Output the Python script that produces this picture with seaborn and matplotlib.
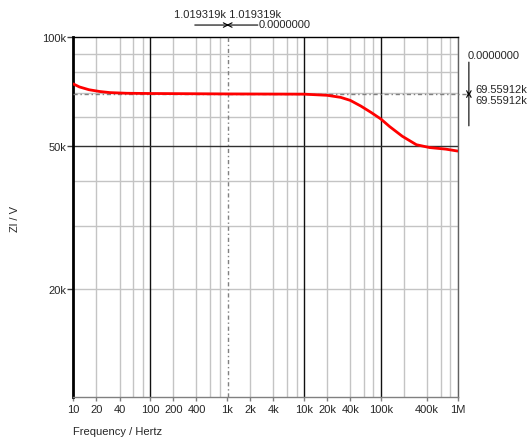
import numpy as np
import pandas as pd
import matplotlib
matplotlib.use("Agg")
import matplotlib.pyplot as plt
import matplotlib.transforms as mtransforms
import seaborn as sns

sns.set_style('white')
plt.rcParams['font.family'] = ['Liberation Sans', 'DejaVu Sans']
plt.rcParams['font.size'] = 8

# ----------------------------------------
# Data
# ----------------------------------------
freq = [10, 12, 16, 22, 30, 50, 100, 1000, 10000, 20000, 30000, 40000,
        55000, 75000, 100000, 130000, 190000, 290000, 430000, 700000, 1000000]
zl = [74200, 72800, 71500, 70700, 70200, 69900, 69800, 69600, 69500, 69000,
      68100, 66800, 64400, 61800, 59300, 56500, 53100, 50300, 49400, 48900, 48300]

xtick_vals = [10, 20, 40, 100, 200, 400, 1e3, 2e3, 4e3, 1e4, 2e4, 4e4, 1e5, 4e5, 1e6]
xtick_labels = ['10', '20', '40', '100', '200', '400', '1k', '2k', '4k',
                '10k', '20k', '40k', '100k', '400k', '1M']
xminor_vals = [60, 80, 600, 800, 6e3, 8e3, 6e4, 8e4, 2e5, 6e5, 8e5]
ytick_vals = [20e3, 50e3, 100e3]
ytick_labels = ['20k', '50k', '100k']
yminor_vals = [30e3, 40e3, 60e3, 70e3, 80e3, 90e3]

cursor_x = 1019.319
cursor_y = 69559.12
cursor_dx = 0.0
cursor_dy = 0.0

df = pd.DataFrame({'Frequency': freq, 'Zl': zl})

# ----------------------------------------
# Figure
# ----------------------------------------
fig = plt.figure(figsize=(5.32, 4.39), dpi=100)
ax = fig.add_axes([0.1378, 0.0927, 0.7226, 0.8201])
ax.set_xscale('log')
ax.set_yscale('log')
ax.set_xlim(10, 1e6)
ax.set_ylim(10e3, 100e3)

# grid
gray = '#c4c4c4'
for v in xtick_vals[1:] + xminor_vals:
    if v in (100, 1e4, 1e5, 1e3):
        continue
    ax.axvline(v, color=gray, lw=1, zorder=1)
for v in [20e3] + yminor_vals:
    ax.axhline(v, color=gray, lw=1, zorder=1)
for v in [100, 1e4, 1e5]:
    ax.axvline(v, color='#101010', lw=1, zorder=2)
ax.axhline(50e3, color='#303030', lw=1, zorder=2)

sns.lineplot(data=df, x='Frequency', y='Zl', color='#ff0000', lw=2,
             ax=ax, zorder=5)

# cursors
ax.axvline(cursor_x, color='#808080', lw=1, dashes=(3, 2, 1, 2), zorder=4)
ax.axhline(cursor_y, xmin=0, xmax=1.029, color='#808080', lw=1,
           dashes=(3, 2, 1, 2), zorder=4, clip_on=False)

ax.set_xticks(xtick_vals)
ax.set_xticklabels(xtick_labels)
ax.set_xticks([], minor=True)
ax.set_yticks(ytick_vals)
ax.set_yticklabels(ytick_labels)
ax.set_yticks([], minor=True)
ax.tick_params(axis='x', length=3, width=1, color='#808080', pad=2,
               labelsize=8, bottom=True)
ax.tick_params(axis='y', length=4, width=1, color='#404040', pad=1,
               labelsize=8, left=True)

for side, c, w in [('left', 'black', 2), ('bottom', '#808080', 1),
                   ('right', '#606060', 1), ('top', 'black', 1)]:
    ax.spines[side].set_visible(True)
    ax.spines[side].set_color(c)
    ax.spines[side].set_linewidth(w)

ax.set_xlabel('Frequency / Hertz', fontsize=8)
ax.xaxis.set_label_coords(0.116, -0.08)
ax.set_ylabel('Zl / V', fontsize=8)
ax.yaxis.set_label_coords(-0.139, 0.498)

arrow = dict(arrowstyle='->', lw=0.8, color='black', shrinkA=0, shrinkB=0,
             mutation_scale=8)

# top cursor readout
tx = mtransforms.blended_transform_factory(ax.transData, ax.transAxes)
ax.text(cursor_x, 1.065, f'{cursor_x/1e3:.6f}k {cursor_x/1e3:.6f}k',
        transform=tx, ha='center', va='center', fontsize=8)
ax.annotate('', xy=(cursor_x * 1.04, 1.034), xycoords=tx,
            xytext=(0.316, 1.034), textcoords='axes fraction',
            arrowprops=arrow, annotation_clip=False)
ax.annotate('', xy=(cursor_x * 0.96, 1.034), xycoords=tx,
            xytext=(0.480, 1.034), textcoords='axes fraction',
            arrowprops=arrow, annotation_clip=False)
ax.text(0.481, 1.036, f'{cursor_dx:.7f}', transform=ax.transAxes,
        ha='left', va='center', fontsize=8)

# right cursor readout
ty = mtransforms.blended_transform_factory(ax.transAxes, ax.transData)
ax.text(1.027, 0.951, f'{cursor_dy:.7f}', transform=ax.transAxes,
        ha='left', va='center', fontsize=8)
ax.annotate('', xy=(1.029, cursor_y * 0.985), xycoords=ty,
            xytext=(1.029, 0.931), textcoords='axes fraction',
            arrowprops=arrow, annotation_clip=False)
ax.annotate('', xy=(1.029, cursor_y * 1.015), xycoords=ty,
            xytext=(1.029, 0.754), textcoords='axes fraction',
            arrowprops=arrow, annotation_clip=False)
ax.text(1.047, 0.856, f'{cursor_y/1e3:.5f}k', transform=ax.transAxes,
        ha='left', va='center', fontsize=8)
ax.text(1.047, 0.826, f'{cursor_y/1e3:.5f}k', transform=ax.transAxes,
        ha='left', va='center', fontsize=8)

fig.savefig('out.png', dpi=100)
